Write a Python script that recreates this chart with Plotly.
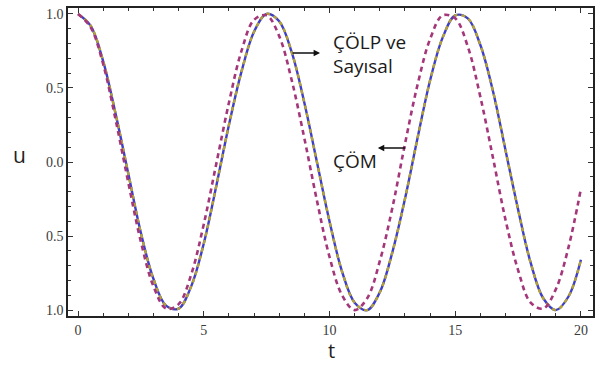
import plotly.graph_objects as go

# ---- data ----
t_vals = [0.0, 0.5, 1.0, 1.5, 2.0, 2.5, 3.0, 3.5, 4.0, 4.5, 5.0, 5.5, 6.0, 6.5,
          7.0, 7.5, 8.0, 8.5, 9.0, 9.5, 10.0, 10.5, 11.0, 11.5, 12.0, 12.5,
          13.0, 13.5, 14.0, 14.5, 15.0, 15.5, 16.0, 16.5, 17.0, 17.5, 18.0,
          18.5, 19.0, 19.5, 20.0]

u_sayisal = [1.00, 0.92, 0.68, 0.32, -0.08, -0.48, -0.79, -0.97, -0.99, -0.84,
             -0.55, -0.16, 0.25, 0.61, 0.88, 1.00, 0.95, 0.74, 0.40, 0.00,
             -0.40, -0.74, -0.95, -1.00, -0.88, -0.61, -0.25, 0.16, 0.55, 0.84,
             0.99, 0.97, 0.79, 0.48, 0.08, -0.32, -0.68, -0.92, -1.00, -0.91,
             -0.66]

u_colp = [1.00, 0.92, 0.68, 0.32, -0.08, -0.48, -0.79, -0.97, -0.99, -0.84,
          -0.55, -0.16, 0.25, 0.61, 0.88, 1.00, 0.95, 0.74, 0.40, 0.00,
          -0.40, -0.74, -0.95, -1.00, -0.88, -0.61, -0.25, 0.16, 0.55, 0.84,
          0.99, 0.97, 0.79, 0.48, 0.08, -0.32, -0.68, -0.92, -1.00, -0.91,
          -0.66]

u_com = [1.00, 0.91, 0.66, 0.28, -0.14, -0.54, -0.84, -0.99, -0.96, -0.76,
         -0.42, -0.01, 0.40, 0.75, 0.96, 0.99, 0.85, 0.55, 0.16, -0.26,
         -0.64, -0.90, -1.00, -0.92, -0.67, -0.31, 0.12, 0.52, 0.83, 0.99,
         0.97, 0.78, 0.44, 0.03, -0.39, -0.73, -0.95, -0.99, -0.86, -0.58,
         -0.18]

x_ticks = [0, 5, 10, 15, 20]
x_ticktext = ["0", "5", "10", "15", "20"]
y_ticks = [-1.0, -0.5, 0.0, 0.5, 1.0]
y_ticktext = ["1.0", "0.5", "0.0", "0.5", "1.0"]

# ---- layout constants (pixels) ----
W, H = 599, 365
ML, MR, MT, MB = 68, 4, 8, 49
PW, PH = W - ML - MR, H - MT - MB


def px(x):
    return (x - ML) / PW


def py(y):
    return (H - MB - y) / PH


fig = go.Figure()
fig.add_trace(go.Scatter(x=t_vals, y=u_sayisal, mode="lines", name="Sayısal",
                         line=dict(color="#3f3fc4", width=2.4, shape="spline")))
fig.add_trace(go.Scatter(x=t_vals, y=u_colp, mode="lines", name="ÇÖLP",
                         line=dict(color="#b3a23a", width=2.4, dash="4px,4px",
                                   shape="spline")))
fig.add_trace(go.Scatter(x=t_vals, y=u_com, mode="lines", name="ÇÖM",
                         line=dict(color="#a4367a", width=2.6, dash="5px,4px",
                                   shape="spline")))

axis_common = dict(showgrid=False, zeroline=False, showline=True, linecolor="#222",
                   linewidth=1.6, mirror="allticks", ticks="inside", ticklen=5,
                   tickwidth=1, tickcolor="#333",
                   tickfont=dict(family="Liberation Serif, Times New Roman, serif",
                                 size=14, color="#3a3a3a"))

fig.update_xaxes(range=[-0.4, 20.48], tickvals=x_ticks, ticktext=x_ticktext,
                 minor=dict(dtick=1, ticks="inside", ticklen=3, tickcolor="#333"),
                 **axis_common)
fig.update_yaxes(range=[-1.04, 1.04], tickvals=y_ticks, ticktext=y_ticktext,
                 minor=dict(dtick=0.1, ticks="inside", ticklen=3, tickcolor="#333"),
                 **axis_common)

txt_font = dict(family="Open Sans", size=19, color="#1a1a1a")
annotations = [
    dict(text="ÇÖLP ve", x=px(332), y=py(42), xanchor="left", yanchor="middle",
         font=txt_font),
    dict(text="Sayısal", x=px(332), y=py(66), xanchor="left", yanchor="middle",
         font=txt_font),
    dict(text="ÇÖM", x=px(332), y=py(161), xanchor="left", yanchor="middle",
         font=txt_font),
    dict(text="u", x=px(19), y=py(155), xanchor="center", yanchor="middle",
         font=dict(family="Open Sans", size=21, color="#222")),
    dict(text="t", x=px(333), y=py(351), xanchor="center", yanchor="middle",
         font=dict(family="Open Sans", size=20, color="#222")),
    # arrows
    dict(text="", x=px(321), y=py(53), ax=-29, ay=0, showarrow=True,
         arrowhead=2, arrowsize=0.8, arrowwidth=1.6, arrowcolor="#111"),
    dict(text="", x=px(379), y=py(148), ax=29, ay=0, showarrow=True,
         arrowhead=2, arrowsize=0.8, arrowwidth=1.6, arrowcolor="#111"),
]
for a in annotations:
    a.update(xref="paper", yref="paper")
    a.setdefault("showarrow", False)

fig.update_layout(width=W, height=H, margin=dict(l=ML, r=MR, t=MT, b=MB),
                  paper_bgcolor="white", plot_bgcolor="white", showlegend=False,
                  annotations=annotations)

fig.write_html("out.html")
